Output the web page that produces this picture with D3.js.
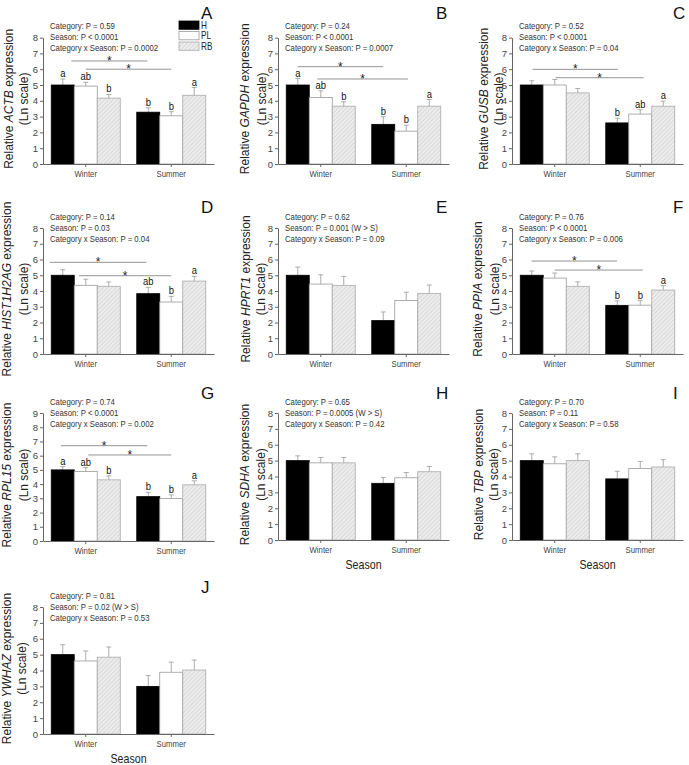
<!DOCTYPE html>
<html>
<head>
  <script src="https://cdn.jsdelivr.net/npm/d3@7"></script>
  <style>
    body { margin: 0; background: #fff; }
    svg { font-family: Arial, "Liberation Sans", sans-serif; }
    .axis path, .axis line { stroke: #666; }
    .axis text { fill: #444; font-size: 9.5px; }
  </style>
</head>
<body>
  <svg id="chart" width="689" height="765"></svg>
  <script>
    // values
    var categories = ['Winter', 'Summer'];
    var groups = ['H', 'PL', 'RB'];
    var genes = ['ACTB', 'GAPDH', 'GUSB', 'HIST1H2AG', 'HPRT1', 'PPIA', 'RPL15', 'SDHA', 'TBP', 'YWHAZ'];
    var panelLetters = ['A', 'B', 'C', 'D', 'E', 'F', 'G', 'H', 'I', 'J'];
    var yMax = [8, 8, 8, 8, 8, 8, 9, 8, 8, 8];

    // order: Winter H, PL, RB, Summer H, PL, RB
    var means = [
      [5.0, 4.93, 4.17, 3.28, 3.05, 4.35],
      [5.0, 4.21, 3.66, 2.51, 2.08, 3.66],
      [5.0, 5.0, 4.5, 2.6, 3.16, 3.66],
      [5.0, 4.36, 4.3, 3.83, 3.3, 4.63],
      [5.0, 4.44, 4.36, 2.12, 3.39, 3.85],
      [5.0, 4.82, 4.3, 3.09, 3.1, 4.06],
      [5.0, 4.88, 4.3, 3.12, 2.98, 3.95],
      [5.0, 4.86, 4.86, 3.57, 3.92, 4.3],
      [5.0, 4.8, 5.0, 3.85, 4.5, 4.6],
      [5.0, 4.6, 4.84, 3.0, 3.89, 4.03]
    ];
    var errTops = [
      [5.38, 5.17, 4.4, 3.56, 3.31, 4.84],
      [5.41, 4.63, 3.94, 2.99, 2.46, 4.08],
      [5.27, 5.35, 4.78, 2.9, 3.43, 3.98],
      [5.35, 4.75, 4.57, 4.23, 3.66, 4.93],
      [5.52, 5.03, 4.93, 2.67, 3.92, 4.38],
      [5.27, 5.14, 4.58, 3.37, 3.39, 4.34],
      [5.23, 5.16, 4.58, 3.42, 3.24, 4.23],
      [5.3, 5.2, 5.2, 3.94, 4.25, 4.63],
      [5.43, 5.24, 5.43, 4.33, 4.95, 5.06],
      [5.62, 5.23, 5.48, 3.68, 4.53, 4.66]
    ];
    var letters = [
      ['a', 'ab', 'b', 'b', 'b', 'a'],
      ['a', 'ab', 'b', 'b', 'b', 'a'],
      ['', '', '', 'b', 'ab', 'a'],
      ['', '', '', 'ab', 'b', 'a'],
      [],
      ['', '', '', 'b', 'b', 'a'],
      ['a', 'ab', 'b', 'b', 'b', 'a'],
      [], [], []
    ];
    var stats = [
      ['Category: P = 0.59', 'Season: P < 0.0001', 'Category x Season: P = 0.0002'],
      ['Category: P = 0.24', 'Season: P < 0.0001', 'Category x Season: P = 0.0007'],
      ['Category: P = 0.52', 'Season: P < 0.0001', 'Category x Season: P = 0.04'],
      ['Category: P = 0.14', 'Season: P = 0.03', 'Category x Season: P = 0.04'],
      ['Category: P = 0.62', 'Season: P = 0.001 (W > S)', 'Category x Season: P = 0.09'],
      ['Category: P = 0.76', 'Season: P < 0.0001', 'Category x Season: P = 0.006'],
      ['Category: P = 0.74', 'Season: P < 0.0001', 'Category x Season: P = 0.002'],
      ['Category: P = 0.65', 'Season: P = 0.0005 (W > S)', 'Category x Season: P = 0.42'],
      ['Category: P = 0.70', 'Season: P = 0.11', 'Category x Season: P = 0.58'],
      ['Category: P = 0.81', 'Season: P = 0.02 (W > S)', 'Category x Season: P = 0.53']
    ];
    // significance brackets: [from, to] in season units (0 = Winter, 1 = Summer), y value
    var sigLines = [
      [[-0.17, 0.72, 6.52], [0, 1.0, 6.0]],
      [[-0.27, 0.73, 6.16], [-0.04, 1.02, 5.38]],
      [[-0.26, 0.74, 5.99], [0.01, 1.04, 5.46]],
      [[-0.42, 0.71, 5.82], [-0.08, 1.0, 4.97]],
      [],
      [[-0.27, 0.73, 5.9], [0, 1.03, 5.33]],
      [[-0.29, 0.72, 6.7], [0.03, 1.0, 6.05]],
      [], [], []
    ];

    // layout
    var colX = [43, 278, 512];
    var plotW = 171;
    var rowTop = [37.6, 37.6, 37.6, 228, 228, 228, 413, 413, 413, 607];
    var rowBottom = [164, 164, 164, 354, 354, 354, 541, 540, 540, 734];
    var labelOff = [[34.5, 19.5], [33, 16.3], [28.7, 13.7], [36.3, 19.7], [32, 17],
                    [34, 17], [36.3, 19.7], [33.7, 17], [33, 18], [36.3, 21.3]];
    var letterX = [201, 436, 673];
    var letterUp = [18.6, 18.6, 18.6, 15, 15, 15, 14, 14, 14, 14];
    var showSeason = [false, false, false, false, false, false, false, true, true, true];
    var squeeze = 0.82; // the source figure's horizontal text is narrower than the font

    var svg = d3.select('#chart');
    var defs = svg.append('defs');
    var pat = defs.append('pattern')
      .attr('id', 'hatch')
      .attr('patternUnits', 'userSpaceOnUse')
      .attr('width', 3).attr('height', 3)
      .attr('patternTransform', 'rotate(45)');
    pat.append('rect').attr('width', 3).attr('height', 3).attr('fill', '#ededed');
    pat.append('line').attr('x1', 0).attr('y1', 0).attr('x2', 0).attr('y2', 3)
      .attr('stroke', '#c4c4c4').attr('stroke-width', 1);

    var fills = { H: '#000', PL: '#fff', RB: 'url(#hatch)' };
    var strokes = { H: '#000', PL: '#999', RB: '#aaa' };

    function at(px, py) {
      return 'translate(' + px + ',' + py + ') scale(' + squeeze + ',1)';
    }

    genes.forEach(function (gene, p) {
      var x0 = colX[p % 3];
      var g = svg.append('g');

      var x = d3.scaleBand().domain(categories).range([x0, x0 + plotW]);
      var groupW = 69;
      var xg = d3.scaleBand().domain(groups)
        .range([(x.bandwidth() - groupW) / 2, (x.bandwidth() + groupW) / 2]);
      var xc = d3.scaleLinear().domain([0, 1])
        .range([x('Winter') + x.bandwidth() / 2, x('Summer') + x.bandwidth() / 2]);
      var y = d3.scaleLinear().domain([0, yMax[p]]).range([rowBottom[p], rowTop[p]]);

      var rows = [];
      categories.forEach(function (c, ci) {
        groups.forEach(function (gr, gi) {
          var k = ci * 3 + gi;
          rows.push({ cat: c, grp: gr, m: means[p][k], e: errTops[p][k], l: letters[p][k] || '' });
        });
      });
      function cx(d) { return x(d.cat) + xg(d.grp) + xg.bandwidth() / 2; }

      // error bars (upper only)
      var eb = g.selectAll('.err').data(rows).enter().append('g');
      eb.append('line')
        .attr('x1', cx).attr('x2', cx)
        .attr('y1', function (d) { return y(d.m); })
        .attr('y2', function (d) { return y(d.e); })
        .attr('stroke', '#999').attr('stroke-width', 0.8);
      eb.append('line')
        .attr('x1', function (d) { return cx(d) - 2.5; })
        .attr('x2', function (d) { return cx(d) + 2.5; })
        .attr('y1', function (d) { return y(d.e); })
        .attr('y2', function (d) { return y(d.e); })
        .attr('stroke', '#999').attr('stroke-width', 0.8);

      g.selectAll('.bar').data(rows).enter().append('rect')
        .attr('x', function (d) { return x(d.cat) + xg(d.grp); })
        .attr('y', function (d) { return y(d.m); })
        .attr('width', xg.bandwidth())
        .attr('height', function (d) { return y(0) - y(d.m); })
        .attr('fill', function (d) { return fills[d.grp]; })
        .attr('stroke', function (d) { return strokes[d.grp]; })
        .attr('stroke-width', 0.8);

      g.selectAll('.lett').data(rows.filter(function (d) { return d.l; })).enter().append('text')
        .attr('transform', function (d) { return at(cx(d), y(d.e) - 2); })
        .attr('text-anchor', 'middle')
        .attr('font-size', '11.5px')
        .attr('fill', '#111')
        .text(function (d) { return d.l; });

      // significance brackets
      var sg = g.selectAll('.sig').data(sigLines[p]).enter().append('g');
      sg.append('line')
        .attr('x1', function (d) { return xc(d[0]); })
        .attr('x2', function (d) { return xc(d[1]); })
        .attr('y1', function (d) { return y(d[2]); })
        .attr('y2', function (d) { return y(d[2]); })
        .attr('stroke', '#888').attr('stroke-width', 0.9);
      sg.append('text')
        .attr('x', function (d) { return xc((d[0] + d[1]) / 2); })
        .attr('y', function (d) { return y(d[2]) + 4; })
        .attr('text-anchor', 'middle')
        .attr('font-size', '12px')
        .attr('fill', '#222')
        .text('*');

      // axes
      g.append('g').attr('class', 'axis')
        .attr('transform', 'translate(' + x0 + ',0)')
        .call(d3.axisLeft(y).ticks(yMax[p]).tickSize(3).tickSizeOuter(0).tickPadding(2)
          .tickFormat(d3.format('d')));
      var xa = g.append('g').attr('class', 'axis')
        .attr('transform', 'translate(0,' + y(0) + ')')
        .call(d3.axisBottom(x).tickSize(3).tickSizeOuter(0).tickPadding(3));
      xa.selectAll('text').attr('font-size', '10px')
        .attr('transform', 'scale(' + squeeze + ',1)');

      // stats text
      var st = g.append('g').attr('transform', at(x0 + 7, 0));
      st.selectAll('text').data(stats[p]).enter().append('text')
        .attr('y', function (d, i) { return rowTop[p] - 11.5 + i * 11; })
        .attr('dy', '0.35em')
        .attr('font-size', '9.5px')
        .attr('fill', '#333')
        .text(function (d) { return d; });

      // y label
      var cy = (rowTop[p] + rowBottom[p]) / 2 - 2;
      var yl = g.append('text')
        .attr('transform', 'translate(' + (x0 - labelOff[p][0]) + ',' + cy + ') rotate(-90)')
        .attr('text-anchor', 'middle').attr('dy', '0.35em')
        .attr('font-size', '12px').attr('fill', '#222');
      yl.append('tspan').text('Relative ');
      yl.append('tspan').attr('font-style', 'italic').text(gene);
      yl.append('tspan').text(' expression');
      g.append('text')
        .attr('transform', 'translate(' + (x0 - labelOff[p][1]) + ',' + cy + ') rotate(-90)')
        .attr('text-anchor', 'middle').attr('dy', '0.35em')
        .attr('font-size', '12px').attr('fill', '#222')
        .text('(Ln scale)');

      // panel letter
      g.append('text')
        .attr('x', letterX[p % 3])
        .attr('y', rowTop[p] - letterUp[p])
        .attr('font-size', '17px').attr('fill', '#111')
        .text(panelLetters[p]);

      if (showSeason[p]) {
        g.append('text')
          .attr('transform', at(x0 + plotW / 2, y(0) + 24))
          .attr('dy', '0.35em')
          .attr('text-anchor', 'middle')
          .attr('font-size', '13px').attr('fill', '#222')
          .text('Season');
      }

      if (p === 0) {
        var lg = g.selectAll('.leg').data(groups).enter().append('g')
          .attr('transform', function (d, i) { return 'translate(179,' + (21 + i * 10.5) + ')'; });
        lg.append('rect')
          .attr('width', 20).attr('height', 8.3)
          .attr('fill', function (d) { return fills[d]; })
          .attr('stroke', function (d) { return strokes[d]; })
          .attr('stroke-width', 0.8);
        lg.append('text')
          .attr('transform', at(22, 4.2))
          .attr('dy', '0.35em')
          .attr('font-size', '10px').attr('fill', '#222')
          .text(function (d) { return d; });
      }
    });
  </script>
</body>
</html>
